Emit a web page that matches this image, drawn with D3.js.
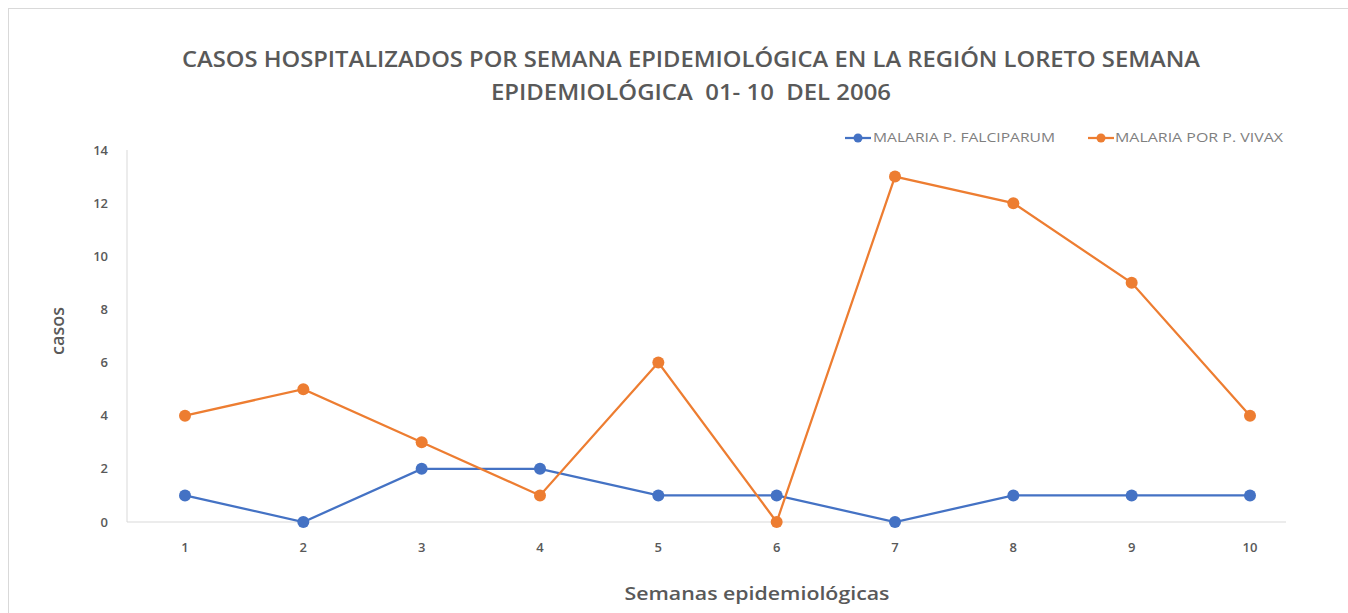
<!DOCTYPE html>
<html><head><meta charset="utf-8">
<script src="https://cdn.jsdelivr.net/npm/d3@7"></script>
<style>body{margin:0;background:#fff;font-family:"Open Sans",sans-serif;}</style>
</head><body>
<svg id="c" width="1348" height="613"></svg>
<script>
const weeks = ["1","2","3","4","5","6","7","8","9","10"];
const falciparum = [1,0,2,2,1,1,0,1,1,1];
const vivax = [4,5,3,1,6,0,13,12,9,4];
const yTicks = [0,2,4,6,8,10,12,14];
const seriesNames = ["MALARIA P. FALCIPARUM","MALARIA POR P. VIVAX"];
const colors = ["#4472C4","#ED7D31"];

const svg = d3.select("#c");
svg.append("rect").attr("x",8.5).attr("y",8.5).attr("width",1400).attr("height",640)
  .attr("fill","#fff").attr("stroke","#d9d9d9");

const x = d3.scalePoint().domain(weeks).range([185,1250]);
const y = d3.scaleLinear().domain([0,14]).range([522,150]);

// axes lines
svg.append("line").attr("x1",127).attr("x2",127).attr("y1",y(14)).attr("y2",y(0)).attr("stroke","#d9d9d9");
svg.append("line").attr("x1",127).attr("x2",1286).attr("y1",y(0)).attr("y2",y(0)).attr("stroke","#d9d9d9");

const tickStyle = s => s.attr("font-family","'Open Sans',sans-serif").attr("font-size",13).attr("font-weight","600").attr("fill","#595959");
svg.append("g").selectAll("text").data(yTicks).join("text")
  .attr("x",108).attr("y",d=>y(d)).attr("dy","0.35em").attr("text-anchor","end").text(d=>d).call(tickStyle);
svg.append("g").selectAll("text").data(weeks).join("text")
  .attr("x",d=>x(d)).attr("y",547).attr("dy","0.35em").attr("text-anchor","middle").text(d=>d).call(tickStyle);

// titles
const title = ["CASOS HOSPITALIZADOS POR SEMANA EPIDEMIOLÓGICA EN LA REGIÓN LORETO SEMANA","EPIDEMIOLÓGICA  01- 10  DEL 2006"];
const tlen = [1018, 400];
svg.append("g").selectAll("text").data(title).join("text")
  .attr("x",691).attr("y",(d,i)=>60+i*33).attr("dy","0.35em").attr("text-anchor","middle")
  .attr("font-family","'Open Sans',sans-serif").attr("font-size",21).attr("font-weight","600").attr("fill","#595959")
  .attr("textLength",(d,i)=>tlen[i]).attr("lengthAdjust","spacingAndGlyphs")
  .style("white-space","pre").text(d=>d);

svg.append("text").attr("transform","translate(58,331) rotate(-90)").attr("text-anchor","middle").attr("dy","0.35em")
  .attr("font-family","'Open Sans',sans-serif").attr("font-size",18).attr("font-weight","600").attr("fill","#595959").text("casos");
svg.append("text").attr("x",757).attr("y",594).attr("text-anchor","middle").attr("dy","0.35em")
  .attr("font-family","'Open Sans',sans-serif").attr("font-size",18).attr("font-weight","600").attr("fill","#595959")
  .attr("textLength",265).attr("lengthAdjust","spacingAndGlyphs").text("Semanas epidemiológicas");

// series
const data = [falciparum, vivax];
const line = d3.line().x((d,i)=>x(weeks[i])).y(d=>y(d));
data.forEach((s,k)=>{
  svg.append("path").datum(s).attr("d",line).attr("fill","none").attr("stroke",colors[k]).attr("stroke-width",2.25);
});
data.forEach((s,k)=>{
  svg.append("g").selectAll("circle").data(s).join("circle")
    .attr("cx",(d,i)=>x(weeks[i])).attr("cy",d=>y(d)).attr("r",6).attr("fill",colors[k]);
});

// legend
const lg = [{x:845,tx:873,tl:182},{x:1088,tx:1115,tl:168}];
lg.forEach((L,k)=>{
  const g = svg.append("g");
  g.append("line").attr("x1",L.x).attr("x2",L.x+26).attr("y1",138).attr("y2",138).attr("stroke",colors[k]).attr("stroke-width",2.25);
  g.append("circle").attr("cx",L.x+13).attr("cy",138).attr("r",4.5).attr("fill",colors[k]);
  g.append("text").attr("x",L.tx).attr("y",138).attr("dy","0.35em")
    .attr("font-family","'Open Sans',sans-serif").attr("font-size",12).attr("fill","#7f7f7f")
    .attr("textLength",L.tl).attr("lengthAdjust","spacingAndGlyphs").text(seriesNames[k]);
});
</script>
</body></html>
